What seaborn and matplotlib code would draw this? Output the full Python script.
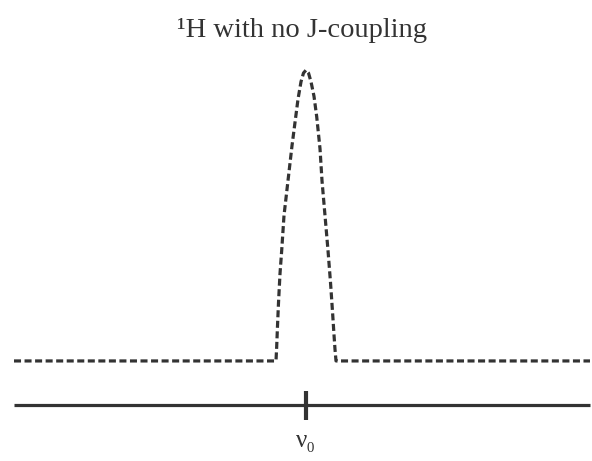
import matplotlib
matplotlib.use("Agg")
import matplotlib.pyplot as plt
import seaborn as sns

# spectrum: offset from nu0 (arbitrary units) and relative intensity
freq = [-292, -30, -29.3, -28.5, -27.5, -26, -24.3, -22, -18, -14, -11, -8, -5, -2.5, 0,
        2.5, 5, 8, 10.7, 14, 16, 19, 22, 24.5, 26.5, 28, 29, 30, 284]
intensity = [0, 0, 0.05, 0.12, 0.2, 0.3, 0.38, 0.5, 0.62, 0.74, 0.82, 0.9, 0.96, 0.99, 1.0,
             0.99, 0.96, 0.91, 0.84, 0.73, 0.62, 0.5, 0.38, 0.27, 0.17, 0.09, 0.04, 0, 0]

title = "¹H with no J-coupling"
tick_label = "ν₀"
ink = "#333333"

sns.set_style("white")
plt.rcParams["font.family"] = ["Liberation Serif", "DejaVu Serif"]

fig = plt.figure(figsize=(5.92, 4.61), dpi=100)
ax = fig.add_axes([0, 0, 1, 1])

sns.lineplot(x=freq, y=intensity, ax=ax, color=ink, linewidth=2.3,
             linestyle=(0, (2.2, 1.1)), sort=False)

# frequency axis with the nu0 tick
ax.plot([freq[0], freq[-1]], [-0.151, -0.151], color=ink, linewidth=2.3,
        solid_capstyle="butt")
ax.vlines(0, -0.203, -0.102, color=ink, linewidth=3)
ax.text(0, -0.275, tick_label, ha="center", va="center", fontsize=18, color=ink)

ax.text(-4, 1.137, title, ha="center", va="center", fontsize=20.5, color=ink)

ax.set_xlim(-306, 286)
ax.set_ylim(-0.344, 1.241)
ax.axis("off")

fig.savefig("out.png", dpi=100)
